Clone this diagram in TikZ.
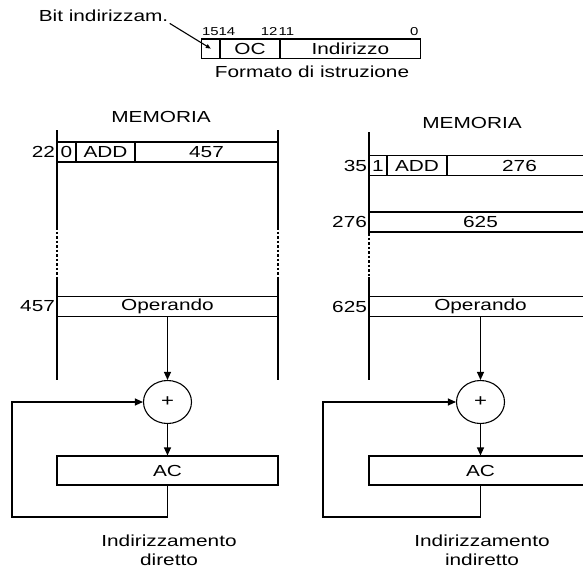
\documentclass[tikz,border=0pt]{standalone}
\usepackage{fontspec}
\setmainfont{Liberation Sans}[FakeStretch=1.3]
\usetikzlibrary{arrows.meta,positioning,shapes.geometric}
\newcommand\txtfont{\fontsize{16}{19}\selectfont}

\begin{document}
\begin{tikzpicture}[x=1pt,y=-1pt,line width=1.1pt,
    cell/.style={draw,inner sep=0pt,minimum height=20pt,font=\txtfont},
    txt/.style={inner sep=1pt,font=\txtfont},
    bitno/.style={inner sep=0pt,font=\fontsize{11.5}{13}\selectfont},
    sum/.style={draw,ellipse,inner sep=0pt,minimum width=48pt,minimum height=43pt,
      font=\fontsize{17}{19}\selectfont},
    dots/.style={dash pattern=on 2.5pt off 2pt},
    flow/.style={-{Triangle[length=8pt,width=7pt]}}
  ]
    \useasboundingbox (0,0) rectangle (583,568);
    % formato di istruzione
    \node[txt] (bitlab) at (103.5,16) {Bit indirizzam.};
    \node[cell,minimum width=18.3pt,minimum height=19.3pt] (fbit) at (210.85,48.65) {};
    \node[cell,minimum width=60pt,minimum height=19.3pt] (foc) at (250,48.65) {OC};
    \node[cell,minimum width=140.7pt,minimum height=19.3pt] (find) at (350.35,48.65) {Indirizzo};
    \foreach \x/\n/\a in {201.5/15/west,218/14/west,278/12/east,278/11/west,419/0/east}
      \node[bitno,anchor=base \a] (b\n) at (\x,35) {\n};
    \node[txt] (fcap) at (312,72) {Formato di istruzione};
    \draw[-{Triangle[length=5pt,width=4pt]}] (bitlab.south east) -- (fbit.center);

    % indirizzamento diretto
    \node[txt] (mem1) at (161,117) {MEMORIA};
    \draw (57,130) -- (57,227) (278,130) -- (278,227);
    \draw[dots] (57,227) -- (57,277) (278,227) -- (278,277);
    \draw (57,277) -- (57,380) (278,277) -- (278,380);
    \node[cell,minimum width=19pt] (i1bit) at (66.5,152) {0};
    \node[cell,minimum width=59pt] (i1op) at (105.5,152) {ADD};
    \node[cell,minimum width=143pt] (i1ind) at (206.5,152) {457};
    \node[txt,anchor=east] (a22) at (i1bit.west) {22};
    \node[cell,minimum width=221pt] (op1) at (167.5,306.5) {Operando};
    \node[txt,anchor=east] (a457) at (op1.west) {457};
    \node[sum] (sum1) at (167.5,402) {+};
    \node[cell,minimum width=221pt,minimum height=29pt] (ac1) at (167.5,470.5) {AC};
    \coordinate (back1) at (12,517);
    \draw[flow] (op1) -- (sum1);
    \draw[flow] (sum1) -- (ac1);
    \draw[flow] (ac1.south) |- (back1) |- (sum1.west);
    \node[txt,align=center,anchor=north] (cap1) at (169,533) {Indirizzamento\\diretto};

    % indirizzamento indiretto
    \node[txt] (mem2) at (472,123) {MEMORIA};
    \draw (369,132) -- (369,233);
    \draw[dots] (369,233) -- (369,277);
    \draw (369,277) -- (369,380);
    \node[cell,minimum width=18pt] (i2bit) at (378,165.5) {1};
    \node[cell,minimum width=60pt] (i2op) at (417,165.5) {ADD};
    \node[cell,minimum width=145pt] (i2ind) at (519.5,165.5) {276};
    \node[txt,anchor=east] (a35) at (i2bit.west) {35};
    \node[cell,minimum width=223pt] (ptr2) at (480.5,222) {625};
    \node[txt,anchor=east] (a276) at (ptr2.west) {276};
    \node[cell,minimum width=223pt] (op2) at (480.5,306.5) {Operando};
    \node[txt,anchor=east] (a625) at (op2.west) {625};
    \node[sum] (sum2) at (480.5,402) {+};
    \node[cell,minimum width=223pt,minimum height=29pt] (ac2) at (480.5,470.5) {AC};
    \coordinate (back2) at (323,517);
    \draw[flow] (op2) -- (sum2);
    \draw[flow] (sum2) -- (ac2);
    \draw[flow] (ac2.south) |- (back2) |- (sum2.west);
    \node[txt,align=center,anchor=north] (cap2) at (482,533) {Indirizzamento\\indiretto};
  \end{tikzpicture}
\end{document}
